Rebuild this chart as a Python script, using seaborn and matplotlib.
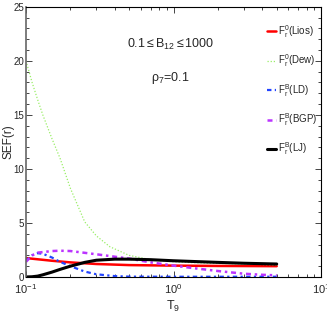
import matplotlib
matplotlib.use("Agg")
import matplotlib.pyplot as plt
import seaborn as sns
import numpy as np
from matplotlib.ticker import MultipleLocator, LogLocator, NullFormatter

sns.set_style("ticks")
plt.rcParams['font.family'] = ['Liberation Sans', 'DejaVu Sans']
plt.rcParams['mathtext.fontset'] = 'custom'
plt.rcParams['mathtext.rm'] = 'Liberation Sans'
plt.rcParams['mathtext.it'] = 'Liberation Sans:italic'

# Data
t_dew = [0.1, 0.11, 0.12, 0.13, 0.15, 0.17, 0.2, 0.25, 0.3, 0.37, 0.5, 0.7, 1.0, 1.5, 2, 3, 4, 5]
sef_dew = [20.0, 18.0, 16.4, 15.0, 12.8, 11.0, 8.2, 5.1, 3.8, 2.8, 2.0, 1.6, 1.4, 1.3, 1.25, 1.2, 1.15, 1.1]

t_lios = [0.1, 0.15, 0.2, 0.3, 0.5, 1.0, 2.0, 5.0]
sef_lios = [1.75, 1.5, 1.35, 1.2, 1.1, 1.05, 1.02, 1.0]

t_ld = [0.1, 0.11, 0.12, 0.13, 0.15, 0.17, 0.2, 0.25, 0.3, 0.4, 0.5, 1.0, 5.0]
sef_ld = [1.5, 2.0, 2.2, 2.15, 1.8, 1.4, 1.0, 0.5, 0.25, 0.08, 0.03, 0.02, 0.02]

t_bgp = [0.1, 0.11, 0.12, 0.15, 0.17, 0.2, 0.3, 0.5, 0.7, 1.0, 1.5, 2.0, 3.0, 4.0, 5.0]
sef_bgp = [1.4, 2.0, 2.25, 2.4, 2.43, 2.4, 2.1, 1.7, 1.35, 1.05, 0.75, 0.55, 0.3, 0.2, 0.15]

t_lj = [0.1, 0.11, 0.12, 0.13, 0.15, 0.17, 0.2, 0.25, 0.3, 0.4, 0.5, 0.7, 1.0, 2.0, 3.0, 5.0]
sef_lj = [0.0, 0.02, 0.08, 0.2, 0.45, 0.7, 1.0, 1.35, 1.55, 1.65, 1.65, 1.6, 1.5, 1.35, 1.27, 1.2]

labels = [r"$\mathregular{F_r^0}$(Lios)", r"$\mathregular{F_r^0}$(Dew)", r"$\mathregular{F_r^B}$(LD)",
          r"$\mathregular{F_r^B}$(BGP)", r"$\mathregular{F_r^B}$(LJ)"]

fig = plt.figure(figsize=(3.27, 3.27), dpi=100)
ax = fig.add_axes([0.0795, 0.153, 0.9025, 0.826])

sns.lineplot(x=t_lios, y=sef_lios, ax=ax, color="#ff0000", lw=1.8, label=labels[0])
sns.lineplot(x=t_dew, y=sef_dew, ax=ax, color="#99ee66", lw=0.9, linestyle=(0, (1, 1.5)), label=labels[1])
sns.lineplot(x=t_ld, y=sef_ld, ax=ax, color="#2244ff", lw=1.6, linestyle=(0, (2, 1.5, 1, 1.5)), label=labels[2])
sns.lineplot(x=t_bgp, y=sef_bgp, ax=ax, color="#bb33ff", lw=1.8, linestyle=(0, (2, 1.5, 1, 1.5)), label=labels[3])
sns.lineplot(x=t_lj, y=sef_lj, ax=ax, color="#000000", lw=2.2, label=labels[4])

ax.set_xscale("log")
ax.set_xlim(0.1, 10)
ax.set_ylim(0, 25)
ax.yaxis.set_major_locator(MultipleLocator(5))
ax.yaxis.set_minor_locator(MultipleLocator(1))
ax.xaxis.set_major_locator(LogLocator(base=10, numticks=5))
ax.xaxis.set_minor_locator(LogLocator(base=10, subs=np.arange(2, 10), numticks=20))
ax.xaxis.set_minor_formatter(NullFormatter())
ax.tick_params(which="both", direction="in", top=True, right=True, labelsize=8, width=0.6)
ax.tick_params(axis="y", pad=1.2, labelsize=7)
ax.tick_params(which="major", length=4)
ax.tick_params(which="minor", length=2)
for s in ax.spines.values():
    s.set_linewidth(0.8)
    s.set_color("black")
ax.spines["left"].set_color("#666666")
ax.spines["left"].set_linewidth(1.2)

ax.set_xlabel(r"$\mathregular{T_9}$", fontsize=9, labelpad=2)
ax.set_ylabel("SEF(r)", fontsize=8.5)
ax.yaxis.set_label_coords(-0.04, 0.5)

ax.text(0.49, 0.862, r"$\mathregular{0.1 \leq B_{12} \leq 1000}$", transform=ax.transAxes,
        ha="center", va="center", fontsize=9)
ax.text(0.49, 0.735, r"$\mathregular{\rho_7}$=0.1", transform=ax.transAxes,
        ha="center", va="center", fontsize=9)

leg = ax.legend(loc="upper right", frameon=False, fontsize=7, handlelength=0.9,
                handletextpad=0.2, labelspacing=1.3, borderaxespad=0.0,
                bbox_to_anchor=(1.0, 0.955))

fig.savefig("out.png", dpi=100)
